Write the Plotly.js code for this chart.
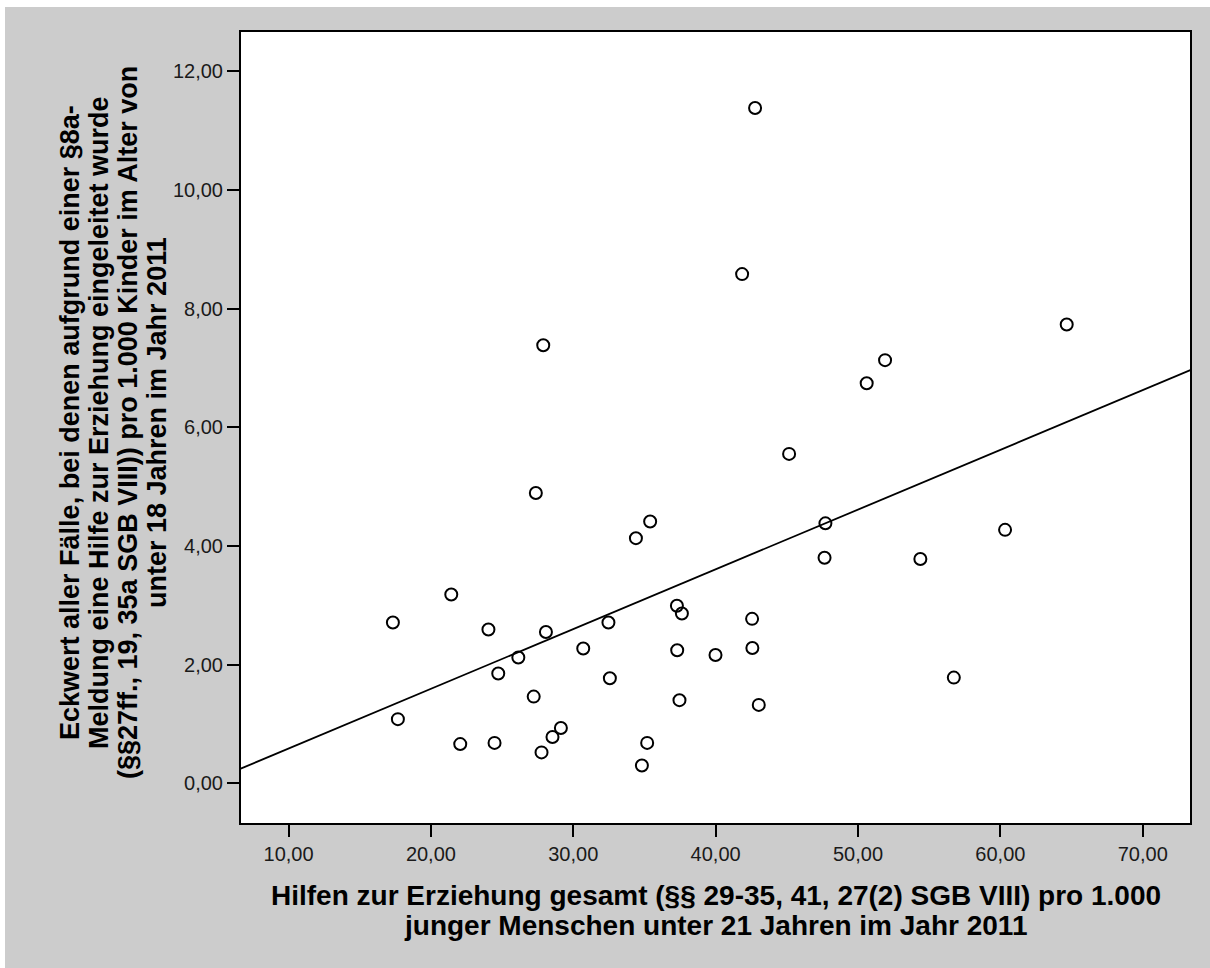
<!DOCTYPE html>
<html><head><meta charset="utf-8">
<script src="https://cdn.plot.ly/plotly-3.0.1.min.js"></script>
<style>html,body{margin:0;padding:0;background:#fff}</style>
</head><body><div id="chart" style="width:1210px;height:968px"></div>
<script>
// Hilfen zur Erziehung gesamt pro 1.000 (x)
const hzeValues = [17.33, 17.68, 21.43, 22.06, 24.04, 24.47, 24.73, 26.14, 27.22, 27.37,
  27.77, 27.89, 28.08, 28.54, 29.13, 30.70, 32.47, 32.57, 34.40, 34.82,
  35.19, 35.40, 37.28, 37.63, 37.30, 37.46, 39.99, 41.86, 42.56, 42.58,
  42.77, 43.03, 45.16, 47.71, 47.65, 50.61, 51.90, 54.38, 56.73, 60.33, 64.66];
// Eckwert §8a pro 1.000 Kinder (y)
const eckwertValues = [2.71, 1.08, 3.18, 0.66, 2.59, 0.68, 1.85, 2.12, 1.46, 4.89,
  0.52, 7.38, 2.55, 0.78, 0.93, 2.27, 2.71, 1.77, 4.13, 0.30,
  0.68, 4.41, 2.99, 2.86, 2.24, 1.40, 2.16, 8.58, 2.77, 2.28,
  11.38, 1.32, 5.55, 4.38, 3.80, 6.74, 7.13, 3.78, 1.78, 4.27, 7.73];
const xTickVals = [10, 20, 30, 40, 50, 60, 70];
const yTickVals = [0, 2, 4, 6, 8, 10, 12];
const xTitleLines = [
  "Hilfen zur Erziehung gesamt (§§ 29-35, 41, 27(2) SGB VIII) pro 1.000",
  "junger Menschen unter 21 Jahren im Jahr 2011"
];
const yTitleLines = [
  "Eckwert aller Fälle, bei denen aufgrund einer §8a-",
  "Meldung eine Hilfe zur Erziehung eingeleitet wurde",
  "(§§27ff., 19, 35a SGB VIII)) pro 1.000 Kinder im Alter von",
  "unter 18 Jahren im Jahr 2011"
];
const xRange = [6.66, 73.32];
const yRange = [-0.67, 12.66];

// least-squares fit line
const n = hzeValues.length;
const mx = hzeValues.reduce((a,b)=>a+b,0)/n;
const my = eckwertValues.reduce((a,b)=>a+b,0)/n;
let sxy = 0, sxx = 0;
for (let i=0;i<n;i++){ sxy += (hzeValues[i]-mx)*(eckwertValues[i]-my); sxx += (hzeValues[i]-mx)**2; }
const slope = sxy/sxx, intercept = my - slope*mx;
const fitX = [xRange[0]-1, xRange[1]+1];
const fitY = fitX.map(v => intercept + slope*v);

const FONT = 'Liberation Sans, Arial, sans-serif';
const W = 1210, H = 968;
const L = 241, R = 20, T = 32, B = 145;
const pw = W - L - R, ph = H - T - B;
const px2x = p => (p - L)/pw;
const py2y = p => (H - B - p)/ph;

const traces = [
  {x: fitX, y: fitY, mode: 'lines', line: {color: '#000', width: 1.8}, hoverinfo: 'skip', showlegend: false},
  {x: hzeValues, y: eckwertValues, mode: 'markers', showlegend: false,
   marker: {symbol: 'circle-open', size: 12, color: '#000', line: {width: 2}}}
];

const yLineX = [70, 99, 128, 157];
const xLineY = [895, 925];
const annotations = [];
yTitleLines.forEach((t,i) => annotations.push({
  text: t, xref: 'paper', yref: 'paper', x: px2x(yLineX[i]), y: py2y(423),
  xanchor: 'center', yanchor: 'middle', textangle: -90, showarrow: false,
  font: {family: FONT, size: 27, color: '#000', weight: 'bold'}
}));
xTitleLines.forEach((t,i) => annotations.push({
  text: t, xref: 'paper', yref: 'paper', x: 0.5, y: py2y(xLineY[i]),
  xanchor: 'center', yanchor: 'middle', showarrow: false,
  font: {family: FONT, size: 28, color: '#000', weight: 'bold'}
}));

const axisCommon = {
  showline: true, mirror: true, linecolor: '#000', linewidth: 2,
  ticks: 'outside', ticklen: 12, tickwidth: 2, tickcolor: '#000',
  showgrid: false, zeroline: false, fixedrange: true,
  tickfont: {family: FONT, size: 20, color: '#1a1a1a'}, tickformat: '.2f'
};

const layout = {
  width: W, height: H,
  margin: {l: L, r: R, t: T, b: B, pad: 0},
  paper_bgcolor: '#cccccc', plot_bgcolor: '#ffffff',
  separators: ',.',
  showlegend: false,
  xaxis: Object.assign({}, axisCommon, {range: xRange, tickvals: xTickVals}),
  yaxis: Object.assign({}, axisCommon, {range: yRange, tickvals: yTickVals}),
  annotations: annotations,
  shapes: [
    {type: 'rect', xref: 'paper', yref: 'paper', x0: -0.5, x1: 1.5, y0: py2y(7), y1: py2y(-20), fillcolor: '#ffffff', line: {width: 0}, layer: 'below'},
    {type: 'rect', xref: 'paper', yref: 'paper', x0: px2x(-20), x1: px2x(5), y0: py2y(1000), y1: py2y(-20), fillcolor: '#ffffff', line: {width: 0}, layer: 'below'}
  ]
};

Plotly.newPlot('chart', traces, layout, {displayModeBar: false, staticPlot: true});
</script>
</body></html>
